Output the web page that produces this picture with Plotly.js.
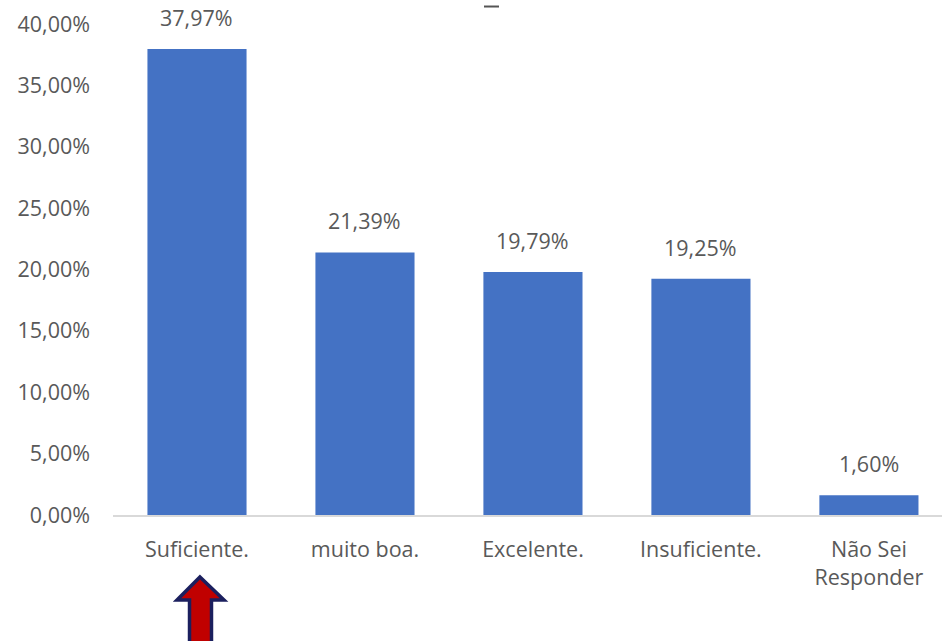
<!DOCTYPE html>
<html><head><meta charset="utf-8">
<script src="https://cdn.plot.ly/plotly-3.0.1.min.js"></script>
<style>html,body{margin:0;padding:0;background:#fff}#chart{width:942px;height:641px}</style>
</head><body><div id="chart"></div>
<script>
var categories = ["Suficiente.", "muito boa.", "Excelente.", "Insuficiente.", "Não Sei<br>Responder"];
var values = [37.97, 21.39, 19.79, 19.25, 1.60];
var yTicks = [0, 5, 10, 15, 20, 25, 30, 35, 40];

function fmt(v){ return v.toFixed(2).replace('.', ',') + '%'; }

var fontFam = "Open Sans, Liberation Sans, sans-serif";
var grey = "#595959";
var fs = 21.5;

var annotations = categories.map(function(c, i){
  return {x: c, y: values[i], xref: 'x', yref: 'y', text: fmt(values[i]),
    showarrow: false, yanchor: 'bottom', yshift: 15, font: {family: fontFam, size: fs, color: grey}};
});

var L = 113, R = 942, T = 24, B = 515;
function px(x){ return ((x - L) / (R - L)).toFixed(4); }
function py(y){ return ((B - y) / (B - T)).toFixed(4); }
var arrowPath = 'M' + px(200) + ',' + py(577) + ' L' + px(224) + ',' + py(600) + ' L' + px(211.5) + ',' + py(600) +
  ' L' + px(211.5) + ',' + py(650) + ' L' + px(189.5) + ',' + py(650) + ' L' + px(189.5) + ',' + py(600) +
  ' L' + px(177) + ',' + py(600) + ' Z';

var data = [{
  type: 'bar', x: categories, y: values, marker: {color: '#4472C4'}, hoverinfo: 'none'
}];

var layout = {
  width: 942, height: 641,
  margin: {l: L, r: 0, t: T, b: 641 - B},
  paper_bgcolor: '#fff', plot_bgcolor: '#fff',
  separators: ',.',
  bargap: 0.41,
  showlegend: false,
  font: {family: fontFam, color: grey, size: fs},
  xaxis: {
    type: 'category', range: [-0.5, 4.435], showgrid: false, zeroline: false,
    showline: true, linecolor: '#d9d9d9', linewidth: 1.5,
    ticks: '', ticklabelstandoff: 15,
    tickfont: {family: fontFam, size: fs, color: grey}
  },
  yaxis: {
    range: [0, 40], tickmode: 'array', tickvals: yTicks, ticktext: yTicks.map(fmt),
    showgrid: false, zeroline: false, showline: false, ticks: '',
    ticklabelstandoff: 22,
    tickfont: {family: fontFam, size: fs, color: grey}
  },
  annotations: annotations,
  shapes: [
    {type: 'path', xref: 'paper', yref: 'paper', path: arrowPath,
     fillcolor: '#C00000', line: {color: '#1B1F5E', width: 3.5}},
    {type: 'line', xref: 'paper', yref: 'paper', x0: px(484), x1: px(499), y0: py(6.5), y1: py(6.5),
     line: {color: '#555555', width: 2}}
  ]
};

Plotly.newPlot('chart', data, layout, {displayModeBar: false, staticPlot: true});
</script>
</body></html>
